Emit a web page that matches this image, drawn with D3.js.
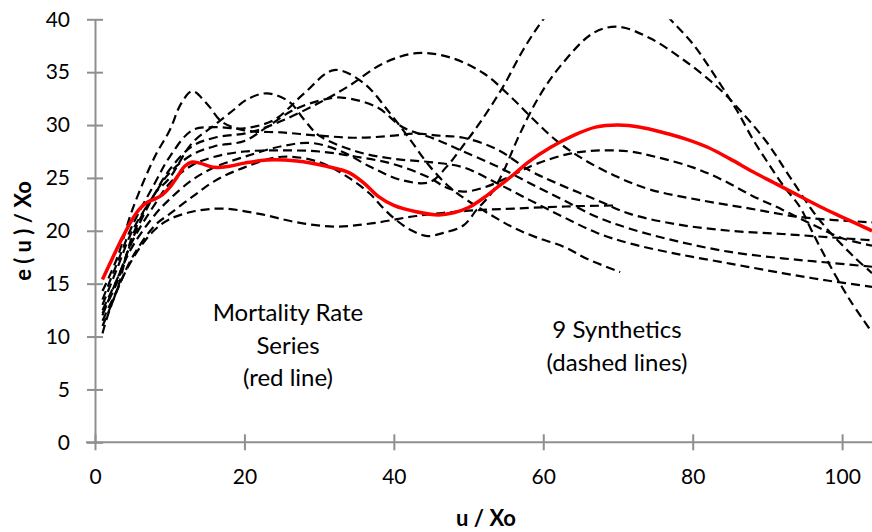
<!DOCTYPE html>
<html>
<head>
<meta charset="utf-8">
<script src="https://cdnjs.cloudflare.com/ajax/libs/d3/7.8.5/d3.min.js"></script>
<style>
  body { margin: 0; background: #fff; }
  svg { font-family: Lato, "Open Sans", sans-serif; }
  .axis path, .axis line { stroke: #8f8f8f; stroke-width: 2px; }
  .axis text { font-size: 21px; fill: #000; font-family: Lato, sans-serif; }
  .note { font-size: 24px; fill: #000; }
  .title { font-size: 22px; font-weight: bold; fill: #000; }
</style>
</head>
<body>
<div id="chart"></div>
<script>
// mortality rate series (red) and 9 synthetic series (dashed), [u/Xo, e(u)/Xo]
var redSeries = [[1,15.4],[2,16.9],[3,18.4],[4,19.8],[5,21.1],[6,22.1],[7,22.7],[8,23.0],[9,23.4],[10,24.1],
  [11,25.1],[12,26.1],[13,26.5],[14,26.4],[16,26.0],[18,26.1],[20,26.4],[23,26.7],[27,26.6],[31,26.1],
  [34,25.5],[36,24.5],[38,23.2],[40,22.4],[43,21.8],[46,21.5],[48,21.7],[50,22.2],[52,23.1],[54,24.2],
  [56,25.3],[58,26.5],[61,27.9],[64,29.0],[67,29.8],[70,30.0],[73,29.8],[76,29.3],[79,28.7],[82,27.9],
  [85,26.8],[88,25.6],[91,24.5],[94,23.4],[97,22.3],[100,21.3],[104,20.0]];

var synA = [[1,10.3],[2,12.6],[4,16],[6,18.4],[8,20.1],[10,21.1],[13,21.8],[17,22.1],[22,21.6],[27,20.8],
  [32,20.4],[37,20.7],[43,21.4],[50,21.9],[56,22.1],[63,22.3],[70,22.4]];
var synB = [[1,11.5],[3,14.5],[5,17.5],[8,20.5],[10,21.6],[13,23.2],[16,24.7],[20,26],[25,27],[30,26.5],
  [34,25],[36.8,23.5],[38.5,22.2],[40,21.2],[42.2,20.1],[44.5,19.5],[46.6,19.8],[49.3,20.5],[51.1,22],
  [53,23.5],[54.6,25.5],[56.5,28.6],[59.2,32.4],[62.2,35.5],[66.7,38.7],[70,39.3],[74.3,38.2],[78.7,36.2],
  [83.3,33.6],[86.7,31.1],[90,28.3],[93,25.1],[97,21],[101.5,17.6],[104,16.0]];
var synC = [[1,12],[3,15.5],[5,18.5],[8,21.5],[10,23],[13,24.8],[16,26],[20,27],[25,28],[29,28.3],
  [33,27.5],[37,26],[41,24.8],[44.8,24.6],[47,26],[49,27.8],[51.5,30.2],[54.6,33.6],[57.3,37.1],[60,40],
  [64,43.5],[68,45],[72,44],[77,40],[80,37.7],[83.3,34.3],[85.9,31.4],[88.1,28.6],[90,26.5],[92.1,24.3],
  [94.4,22.2],[96,19.9],[98,17.2],[101,13.5],[104,10.4]];
var synD = [[1,12.2],[3,15.2],[5,19.2],[8,23.5],[10,25.8],[13,28],[16,28.8],[20.7,29.3],[25,30.4],[30,32.1],
  [34,33.7],[38.5,35.8],[43,36.8],[47.5,36.4],[52,34.9],[55.6,32.7],[58.6,30.6],[61.8,28.5],[65.3,26.8],
  [69.9,25.1],[74.3,23.9],[81,22.9],[87.7,22.1],[94.4,21.3],[104,20.8]];
var synE = [[1,13.5],[3,17],[5,20.5],[8,24.5],[10,27],[13,29.5],[16,29.8],[20,29.7],[24,30.5],[28,33],
  [32,35.2],[35.9,34],[39.5,31.1],[42.2,28.6],[44.8,26.1],[47.5,24.1],[49.8,22.9],[53,21.5],[56,20.3],
  [59,19.4],[62.7,18.5],[66,17.3],[70.3,16.1]];
var synF = [[1,14.3],[3,17.5],[5,22],[8,27],[10,29.5],[11.5,32],[13,33.2],[15,32],[17,30.3],[20,29.5],
  [25,29.3],[30,29],[35,28.8],[40,29],[43,29.2],[46,29],[49.3,28.8],[53.8,27.7],[58.2,25.7],[61.8,24.5],
  [67.2,22.9],[71.6,21.6],[78,20.6],[85,20],[92,19.7],[98,19.4],[104,19.1]];
var synG = [[1,13],[3,16.5],[5,20],[8,23.5],[10,25.5],[13,27.2],[16,28],[20,28.5],[23,29.8],[26.5,31.4],
  [30,32.3],[33,32.6],[37.7,31.7],[41.2,29.8],[45.8,28.6],[49.3,27.5],[53.8,26.1],[58.2,24.5],[62.7,22.9],
  [67.2,21.3],[71.6,20.2],[78,19],[85,18],[92,17.4],[98,17],[104,16.6]];
var synH = [[1,11],[3,14.5],[5,19.5],[8,23.5],[10,25],[13,28.3],[16,30],[18.5,31.4],[20.3,32.4],[23,33],
  [26,32.2],[28,30.5],[30,29],[35,27.5],[40,26.8],[44.8,26.5],[49.3,26],[53.8,24.5],[58.2,22.9],[62.7,21.3],
  [67.2,19.8],[71.6,18.8],[78,17.8],[85,16.9],[92,16],[98,15.3],[104,14.7]];
var synI = [[1,12.5],[3,15.5],[5,19],[8,22.5],[10,24.5],[13,26.2],[16,27],[20,27.5],[25,27.6],[30,27.5],
  [35,27],[40,26.3],[44.8,25],[47,24.1],[49.3,23.7],[52.5,24.2],[56,25.3],[59,26.3],[63.6,27.3],[67.6,27.6],
  [71.6,27.5],[75,27],[80,26],[84,24.8],[88,23.3],[92,22],[96,20.6],[100,19.3],[104,18.6]];

var synthetics = [synA, synB, synC, synD, synE, synF, synG, synH, synI];

var xTicks = [0, 20, 40, 60, 80, 100];
var yTicks = [0, 5, 10, 15, 20, 25, 30, 35, 40];

var width = 872, height = 532;
var plot = {left: 95, right: 872, top: 19.3, bottom: 442.3};

var svg = d3.select("#chart").append("svg")
    .attr("width", width)
    .attr("height", height);

var x = d3.scaleLinear().domain([0, 104]).range([plot.left, plot.right]);
var y = d3.scaleLinear().domain([0, 40]).range([plot.bottom, plot.top]);

svg.append("clipPath").attr("id", "plotClip")
  .append("rect")
    .attr("x", plot.left).attr("y", plot.top)
    .attr("width", plot.right - plot.left).attr("height", plot.bottom - plot.top);

// axes with ticks crossing the line
var gy = svg.append("g").attr("class", "axis")
    .attr("transform", "translate(" + plot.left + ",0)")
    .call(d3.axisLeft(y).tickValues(yTicks).tickSize(8).tickPadding(17).tickSizeOuter(0));
gy.selectAll(".tick line").attr("x1", 8);

var gx = svg.append("g").attr("class", "axis")
    .attr("transform", "translate(0," + plot.bottom + ")")
    .call(d3.axisBottom(x).tickValues(xTicks).tickSize(8).tickPadding(19).tickSizeOuter(0));
gx.selectAll(".tick line").attr("y1", -8);
gx.select(".domain").attr("d", "M" + (plot.left - 9) + ",0H" + plot.right);

var line = d3.line()
    .x(function(d) { return x(d[0]); })
    .y(function(d) { return y(d[1]); })
    .curve(d3.curveCatmullRom.alpha(0.5));

var lines = svg.append("g").attr("clip-path", "url(#plotClip)");

lines.selectAll(".syn").data(synthetics).enter()
  .append("path")
    .attr("class", "syn")
    .attr("d", line)
    .attr("fill", "none")
    .attr("stroke", "#000")
    .attr("stroke-width", 2.2)
    .attr("stroke-dasharray", "9,5");

lines.append("path")
    .attr("d", line(redSeries))
    .attr("fill", "none")
    .attr("stroke", "#ff0000")
    .attr("stroke-width", 3.5);

// annotations
var notes = [
  {x: 288, lines: ["Mortality Rate", "Series", "(red line)"], y0: 321},
  {x: 617, lines: ["9 Synthetics", "(dashed lines)"], y0: 338}
];
notes.forEach(function(n) {
  n.lines.forEach(function(t, i) {
    svg.append("text").attr("class", "note")
      .attr("x", n.x).attr("y", n.y0 + i * 32.5)
      .attr("text-anchor", "middle")
      .text(t);
  });
});

// axis titles
svg.append("text").attr("class", "title")
  .attr("x", 486).attr("y", 526)
  .attr("text-anchor", "middle")
  .text("u / Xo");

svg.append("text").attr("class", "title")
  .attr("transform", "translate(31,231) rotate(-90)")
  .attr("text-anchor", "middle")
  .text("e ( u ) / Xo");
</script>
</body>
</html>
